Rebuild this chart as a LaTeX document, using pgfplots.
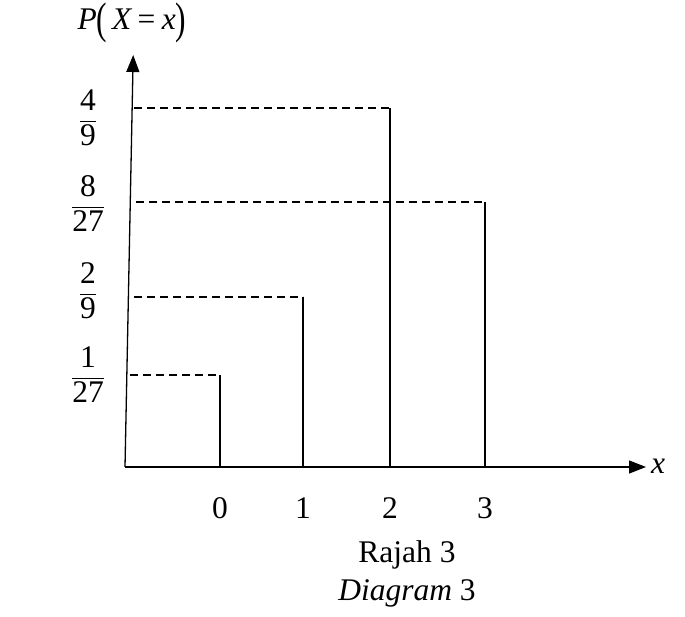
\documentclass[border=0pt]{standalone}
\usepackage{amsmath}
\usepackage{fontspec}
\setmainfont{Liberation Serif}
\usepackage{pgfplots}
\pgfplotsset{compat=1.18}
\usetikzlibrary{arrows.meta}

% x = 0,1,2,3 drawn at 220,303,390,485 (schematic, not to scale)
% heights as drawn above the base line
\pgfplotstableread{
xp  h
220 92
303 170
390 359
485 265
}\probs

\newcommand{\fr}[2]{$\dfrac{\text{#1}}{\text{#2}}$}
\newcommand{\tp}[1]{\raisebox{-0.12em}{\scalebox{1}[1.4]{\upshape #1}}}

\begin{document}
\begin{tikzpicture}
\begin{axis}[
  scale only axis, width=685pt, height=616pt,
  xmin=0, xmax=685, ymin=-149, ymax=467,
  hide axis, clip=false,
]
  \path (axis cs:0,-149) rectangle (axis cs:685,467);

  % axes
  \draw[line width=1.3pt, -{Triangle[length=17pt,width=13pt]}]
    (axis cs:125,0) -- (axis cs:646,0);
  \draw[line width=1.3pt, -{Triangle[length=17pt,width=13pt]}]
    (axis cs:125,0) -- (axis cs:133.2,412);

  % vertical lines
  \addplot[ycomb, black, line width=1.3pt, mark=none] table[x=xp, y=h] {\probs};

  % dashed guides
  \addplot[black, line width=1.2pt, dash pattern=on 8pt off 5pt] coordinates {(130,92) (220,92)};
  \addplot[black, line width=1.2pt, dash pattern=on 8pt off 5pt] coordinates {(134,170) (303,170)};
  \addplot[black, line width=1.2pt, dash pattern=on 8pt off 5pt] coordinates {(136,265) (485,265)};
  \addplot[black, line width=1.2pt, dash pattern=on 8pt off 5pt] coordinates {(134,359) (390,359)};

  \begin{scope}[every node/.style={font=\fontsize{31.5}{36}\selectfont, inner sep=0pt}]
    \node at (axis cs:88,92) {\fr{1}{27}};
    \node at (axis cs:88,176) {\fr{2}{9}};
    \node at (axis cs:88,263) {\fr{8}{27}};
    \node at (axis cs:88,349) {\fr{4}{9}};

    \node at (axis cs:220,-41) {0};
    \node at (axis cs:303,-41) {1};
    \node at (axis cs:390,-41) {2};
    \node at (axis cs:485,-41) {3};

    \node at (axis cs:658,1) {\itshape x};
    \node[anchor=base] at (axis cs:132,437) {\itshape P\tp{(}\kern0.15em X\kern0.2em\upshape=\kern0.2em\itshape x\tp{)}};

    \node at (axis cs:407,-88) {Rajah 3};
    \node at (axis cs:407,-126) {\itshape Diagram \upshape 3};
  \end{scope}
\end{axis}
\end{tikzpicture}
\end{document}
